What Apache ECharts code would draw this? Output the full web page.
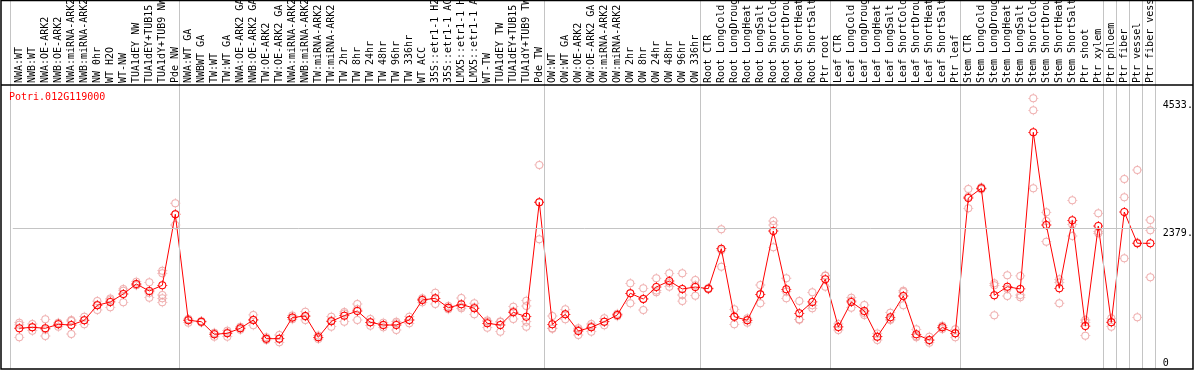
<!DOCTYPE html>
<html>
<head>
<meta charset="utf-8">
<script src="https://cdn.jsdelivr.net/npm/echarts@6/dist/echarts.min.js"></script>
<style>
    html, body { margin: 0; padding: 0; background: #fff; }
    #chart { width: 1194px; height: 370px; }
</style>
</head>
<body>
<div id="chart"></div>
<script>
// sample names, in plot order
const categories = [
    'NWA:WT', 'NWB:WT', 'NWA:OE-ARK2', 'NWB:OE-ARK2', 'NWA:miRNA-ARK2', 'NWB:miRNA-ARK2',
    'NW 0hr', 'WT H2O', 'WT-NW', 'TUA1dEY NW', 'TUA1dEY+TUB15 NW', 'TUA1dY+TUB9 NW', 'Pde NW',
    'NWA:WT GA', 'NWBWT GA', 'TW:WT', 'TW:WT GA', 'NWA:OE-ARK2 GA', 'NWB:OE-ARK2 GA',
    'TW:OE-ARK2', 'TW:OE-ARK2 GA', 'NWA:miRNA-ARK2 GA', 'NWB:miRNA-ARK2 GA', 'TW:miRNA-ARK2',
    'TW:miRNA-ARK2 GA', 'TW 2hr', 'TW 8hr', 'TW 24hr', 'TW 48hr', 'TW 96hr', 'TW 336hr', 'WT ACC',
    '35S::etr1-1 H2O', '35S::etr1-1 ACC', 'LMX5::etr1-1 H2O', 'LMX5::etr1-1 ACC', 'WT-TW',
    'TUA1dEY TW', 'TUA1dEY+TUB15 TW', 'TUA1dY+TUB9 TW', 'Pde TW',
    'OW:WT', 'OW:WT GA', 'OW:OE-ARK2', 'OW:OE-ARK2 GA', 'OW:miRNA-ARK2', 'OW:miRNA-ARK2 GA',
    'OW 2hr', 'OW 8hr', 'OW 24hr', 'OW 48hr', 'OW 96hr', 'OW 336hr',
    'Root CTR', 'Root LongCold', 'Root LongDrought', 'Root LongHeat', 'Root LongSalt',
    'Root ShortCold', 'Root ShortDrought', 'Root ShortHeat', 'Root ShortSalt', 'Ptr root',
    'Leaf CTR', 'Leaf LongCold', 'Leaf LongDrought', 'Leaf LongHeat', 'Leaf LongSalt',
    'Leaf ShortCold', 'Leaf ShortDrought', 'Leaf ShortHeat', 'Leaf ShortSalt', 'Ptr leaf',
    'Stem CTR', 'Stem LongCold', 'Stem LongDrought', 'Stem LongHeat', 'Stem LongSalt',
    'Stem ShortCold', 'Stem ShortDrought', 'Stem ShortHeat', 'Stem ShortSalt', 'Ptr shoot', 'Ptr xylem',
    'Ptr phloem', 'Ptr fiber', 'Ptr vessel', 'Ptr fiber vessel'
];

// number of samples in each boxed group (separators between groups)
const groupSizes = [13, 28, 12, 10, 10, 11, 1, 1, 1, 1];

// mean expression per sample
const means = [
    684, 700, 684, 751, 739, 819, 1073, 1129, 1264, 1433, 1315, 1411, 2613,
    819, 795, 582, 599, 684, 824, 508, 508, 866, 892, 531, 802, 897, 976, 785, 739, 739, 824,
    1162, 1191, 1032, 1089, 1022, 768, 739, 954, 880, 2816,
    751, 920, 638, 700, 795, 909, 1276, 1179, 1382, 1484, 1349, 1382,
    1354, 2030, 880, 819, 1259, 2330, 1343, 937, 1129, 1513,
    706, 1129, 976, 541, 870, 1230, 582, 486, 700, 599,
    2888, 3052, 1242, 1387, 1349, 4000, 2431, 1360, 2511, 722, 2414,
    785, 2651, 2122, 2122
];

// replicate values per sample
const replicates = [
    [778, 743, 531], [756, 701, 643], [836, 663, 553], [778, 764, 711], [824, 806, 587],
    [880, 826, 751], [1145, 1081, 993], [1186, 1162, 1039], [1349, 1320, 1123], [1472, 1416, 1411],
    [1462, 1282, 1201], [1658, 1614, 1247, 1191, 1123], [2799, 2613, 2431],
    [843, 836, 778], [808, 795, 783], [610, 595, 541], [643, 614, 541], [711, 684, 657],
    [909, 829, 734], [531, 508, 485], [570, 508, 447], [900, 863, 836], [965, 885, 826],
    [560, 531, 502], [880, 815, 711], [960, 936, 795], [1095, 1009, 824], [842, 785, 728],
    [778, 739, 700], [795, 767, 655], [880, 824, 768], [1191, 1172, 1123], [1286, 1191, 1095],
    [1059, 1032, 1005], [1196, 1049, 1022], [1107, 1039, 920], [815, 795, 694], [800, 790, 626],
    [1049, 972, 841], [1151, 1061, 795, 711], [3447, 2816, 2190],
    [892, 684, 677], [1005, 920, 836], [684, 660, 570], [756, 718, 626], [853, 795, 737],
    [930, 909, 888], [1445, 1276, 1107], [1360, 1184, 993], [1530, 1323, 1293], [1614, 1451, 1387],
    [1614, 1247, 1145], [1501, 1410, 1235],
    [1365, 1354, 1343], [2359, 2005, 1726], [1005, 884, 751], [853, 826, 778], [1416, 1254, 1107],
    [2499, 2431, 2054], [1530, 1308, 1191], [1145, 836, 830], [1293, 1072, 1022], [1578, 1574, 1387],
    [757, 706, 655], [1201, 1154, 1032], [1078, 941, 909], [596, 541, 486], [948, 838, 824],
    [1320, 1297, 1073], [667, 548, 531], [541, 477, 440], [728, 700, 672], [667, 599, 531],
    [3041, 2909, 2714], [3069, 3052, 3035], [1445, 1411, 904], [1580, 1351, 1230], [1569, 1247, 1208],
    [4575, 4372, 3052], [2646, 2498, 2149], [1513, 1460, 1107], [2849, 2439, 2245], [824, 784, 558],
    [2629, 2322, 2291],
    [853, 791, 711], [3210, 2900, 1868], [3362, 2134, 870], [2516, 2342, 1547]
];

const geneName = 'Potri.012G119000';
const yTicks = [0, 2379, 4533];
const gridLineValue = 2379;

const FONT = 'DejaVu Sans Mono';
// hollow ring with four small ticks, like the original plot marker
const ringSymbol = 'path://M2,10A8,8,0,1,0,18,10A8,8,0,1,0,2,10ZM4,10A6,6,0,1,1,16,10A6,6,0,1,1,4,10Z' +
    'M9.2,0H10.8V2H9.2ZM9.2,18H10.8V20H9.2ZM0,9.2H2V10.8H0ZM18,9.2H20V10.8H18Z';

let boundaries = [0];
groupSizes.forEach(n => boundaries.push(boundaries[boundaries.length - 1] + n));

let repPoints = [];
replicates.forEach((reps, i) => {
    reps.forEach(v => repPoints.push([i, v]));
});

const myChart = echarts.init(document.getElementById('chart'));
let option = {
    animation: false,
    title: {
        text: geneName,
        left: 9,
        top: 92,
        padding: 0,
        textStyle: {
            color: '#ff0000',
            fontFamily: FONT,
            fontSize: 10,
            fontWeight: 'normal'
        }
    },
    grid: [{
        // data area
        left: 12.8,
        top: 85,
        width: 1144,
        height: 283.7,
        containLabel: false,
        outerBoundsMode: 'none'
    }, {
        // group separators, through header and plot
        left: 10.3,
        top: 0,
        width: 1145,
        height: 368.7,
        containLabel: false,
        outerBoundsMode: 'none'
    }],
    xAxis: [{
        type: 'category',
        gridIndex: 0,
        position: 'top',
        data: categories,
        boundaryGap: true,
        axisLine: { show: false },
        axisTick: { show: false },
        splitLine: { show: false },
        axisLabel: {
            rotate: 90,
            interval: 0,
            margin: 2,
            color: '#000',
            fontFamily: FONT,
            fontSize: 10
        }
    }, {
        type: 'value',
        gridIndex: 1,
        min: 0,
        max: categories.length,
        show: false
    }],
    yAxis: [{
        type: 'value',
        gridIndex: 0,
        position: 'right',
        min: 0,
        max: 4800,
        axisLine: { show: false },
        axisTick: { show: false },
        splitLine: { show: false },
        axisLabel: {
            customValues: yTicks,
            formatter: v => v === 0 ? '0' : v + '.',
            margin: 6,
            verticalAlign: 'top',
            verticalAlignMinLabel: 'bottom',
            color: '#000',
            fontFamily: FONT,
            fontSize: 10
        }
    }, {
        type: 'value',
        gridIndex: 1,
        min: 0,
        max: 1,
        show: false
    }],
    graphic: [{
        type: 'rect',
        shape: { x: 1, y: 0.5, width: 1192, height: 368.5 },
        style: { fill: 'none', stroke: '#000', lineWidth: 1.5 },
        z: 10
    }, {
        type: 'line',
        shape: { x1: 1, y1: 85, x2: 1193, y2: 85 },
        style: { stroke: '#000', lineWidth: 1.5 },
        z: 10
    }],
    series: [{
        // separators
        type: 'scatter',
        xAxisIndex: 1,
        yAxisIndex: 1,
        data: [],
        silent: true,
        markLine: {
            silent: true,
            symbol: 'none',
            label: { show: false },
            lineStyle: { color: '#c4c4c4', width: 1, type: 'solid' },
            data: boundaries.map(b => ({ xAxis: b }))
        }
    }, {
        // replicates
        type: 'scatter',
        xAxisIndex: 0,
        yAxisIndex: 0,
        data: repPoints,
        symbol: ringSymbol,
        symbolSize: 10,
        silent: true,
        z: 2,
        itemStyle: { color: '#eb9c9c' }
    }, {
        // means
        type: 'line',
        xAxisIndex: 0,
        yAxisIndex: 0,
        data: means,
        symbol: ringSymbol,
        symbolSize: 10,
        showAllSymbol: true,
        silent: true,
        z: 3,
        lineStyle: { color: '#ff0000', width: 1 },
        itemStyle: { color: '#ff0000' },
        markLine: {
            silent: true,
            symbol: 'none',
            label: { show: false },
            lineStyle: { color: '#c4c4c4', width: 1, type: 'solid' },
            data: [{ yAxis: gridLineValue }]
        }
    }]
};
myChart.setOption(option);
</script>
</body>
</html>
